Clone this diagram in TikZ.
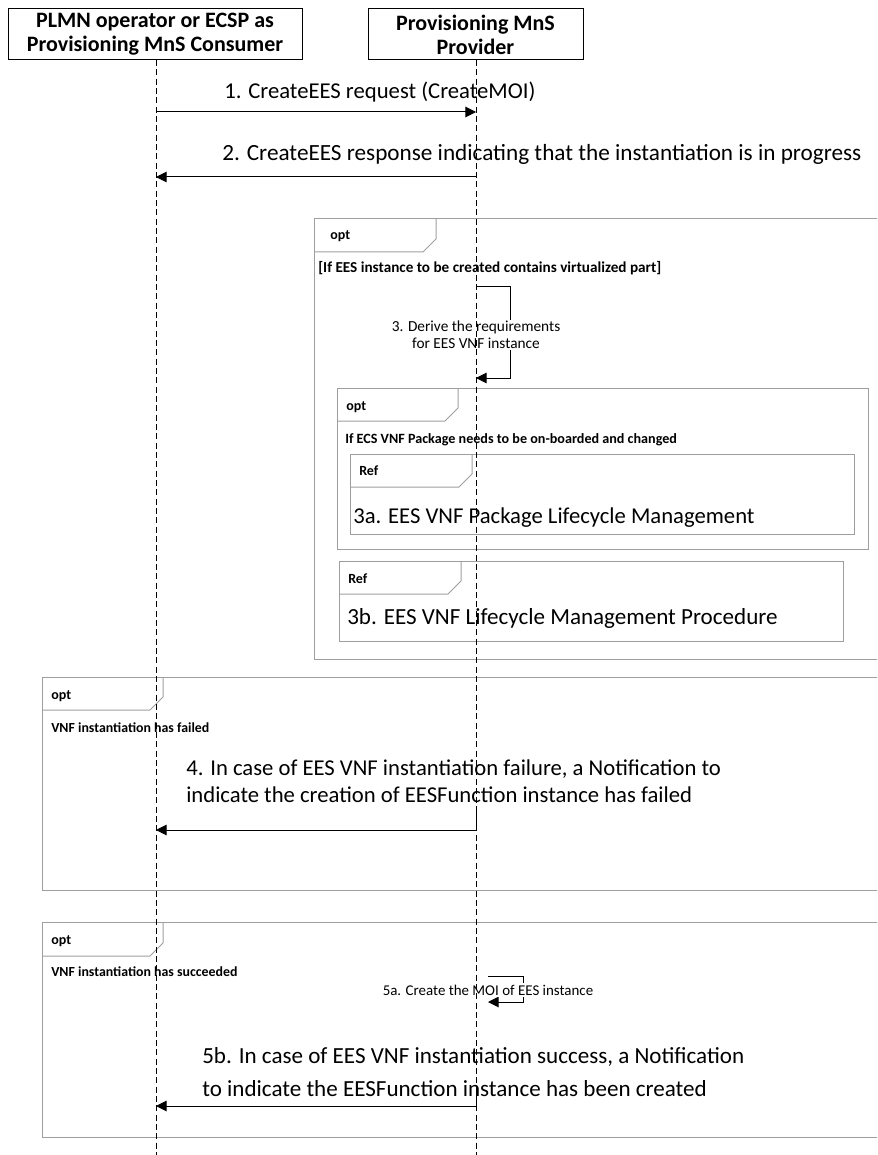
\documentclass[tikz,border=0pt]{standalone}
\usepackage{fontspec}
\setmainfont{Carlito}
\usetikzlibrary{arrows.meta}
\begin{document}
\begin{tikzpicture}[x=0.75pt,y=-0.75pt,
  actor/.style={draw, line width=0.75pt, align=center, inner sep=0pt,
    font=\bfseries\fontsize{16.5}{18}\selectfont},
  life/.style={line width=0.75pt, dash pattern=on 4.5pt off 2.5pt},
  msg/.style={line width=0.75pt, -{Triangle[length=8pt,width=8pt]}},
  selfmsg/.style={line width=0.75pt, -{Triangle[length=8pt,width=8pt]}},
  frame/.style={draw=black!38, line width=0.75pt},
  msgtxt/.style={inner sep=0pt, anchor=base west, font=\fontsize{17}{20}\selectfont},
  bigtxt/.style={inner sep=0pt, anchor=base west, font=\fontsize{17.1}{20}\selectfont},
  tabtxt/.style={inner sep=0pt, anchor=base west, font=\bfseries\fontsize{10.5}{12}\selectfont},
  guardtxt/.style={inner sep=0pt, anchor=base west, font=\bfseries\fontsize{10.6}{12}\selectfont},
  smalltxt/.style={inner sep=1pt, fill=white, align=center, font=\fontsize{11.5}{13}\selectfont}
]
\useasboundingbox (0,0) rectangle (877,1155);
\clip (0,0) rectangle (877,1155);

% ---------- frames ----------
% outer opt
\draw[frame] (314,219) rectangle (880,659);
\draw[frame] (314,252) -- (423,252) -- (436,239) -- (436,219);
\node[tabtxt] (opt1) at (330,240) {opt};
\node[guardtxt, font=\bfseries\fontsize{11.4}{12}\selectfont] (g1) at (318,273) {[If EES instance to be created contains virtualized part]};
% inner opt
\draw[frame] (337,388) rectangle (868,549);
\draw[frame] (337,421) -- (445,421) -- (458,408) -- (458,388);
\node[tabtxt] (opt2) at (346,410) {opt};
\node[guardtxt] (g2) at (345,443) {If ECS VNF Package needs to be on-boarded and changed};
% ref 3a
\draw[frame] (350,454) rectangle (854,534);
\draw[frame] (350,487) -- (459,487) -- (472,474) -- (472,454);
\node[tabtxt] (ref1) at (359,475) {Ref};
\node[bigtxt, font=\fontsize{17}{20}\selectfont] (r3a) at (353,523) {3a. EES VNF Package Lifecycle Management};
% ref 3b
\draw[frame] (339,561) rectangle (843,641);
\draw[frame] (339,594) -- (448,594) -- (461,581) -- (461,561);
\node[tabtxt] (ref2) at (348,583) {Ref};
\node[bigtxt, font=\fontsize{17.3}{20}\selectfont] (r3b) at (347,624) {3b. EES VNF Lifecycle Management Procedure};
% opt failed
\draw[frame] (42,677) rectangle (880,890);
\draw[frame] (42,710) -- (150,710) -- (163,697) -- (163,677);
\node[tabtxt] (opt3) at (51,699) {opt};
\node[guardtxt, font=\bfseries\fontsize{10.4}{12}\selectfont] (g3) at (51,732) {VNF instantiation has failed};
% opt succeeded
\draw[frame] (42,922) rectangle (880,1137);
\draw[frame] (42,956) -- (150,956) -- (163,943) -- (163,922);
\node[tabtxt] (opt4) at (51,944) {opt};
\node[guardtxt, font=\bfseries\fontsize{10.4}{12}\selectfont] (g4) at (51,976) {VNF instantiation has succeeded};

% ---------- actors ----------
\node[actor, minimum width=220.5pt, minimum height=38.25pt] (cons) at (155,34.5)
  {PLMN operator or ECSP as\\Provisioning MnS Consumer};
\node[actor, minimum width=161.25pt, minimum height=38.25pt] (prov) at (475.5,34.5)
  {Provisioning MnS\\Provider};

% lifeline coordinates
\coordinate (cT) at (156,60);   \coordinate (cB) at (156,1155);
\coordinate (pT) at (476,60);   \coordinate (pB) at (476,1155);

% message points
\coordinate (c1) at (156,112); \coordinate (p1) at (476,112);
\coordinate (c2) at (156,177); \coordinate (p2) at (476,177);
\coordinate (s3a) at (476,287); \coordinate (s3b) at (510,287);
\coordinate (s3c) at (510,378); \coordinate (s3d) at (476,378);
\coordinate (c4) at (156,830); \coordinate (p4) at (476,830);
\coordinate (p4s) at (476,806);
\coordinate (s5a) at (488,976); \coordinate (s5b) at (523,976);
\coordinate (s5c) at (523,1002); \coordinate (s5d) at (488,1002);
\coordinate (c5) at (156,1106); \coordinate (p5) at (476,1106);
\coordinate (p5s) at (476,1092);

% ---------- messages ----------
\draw[msg] (c1) -- (p1);
\node[msgtxt] (m1) at (224,98.5) {1. CreateEES request (CreateMOI)};
\draw[msg] (p2) -- (c2);
\node[msgtxt, font=\fontsize{17.4}{20}\selectfont] (m2) at (222,161) {2. CreateEES response indicating that the instantiation is in progress};

\draw[selfmsg] (s3a) -- (s3b) -- (s3c) -- (s3d);
\node[smalltxt] (m3) at (476,335) {3. Derive the requirements\\for EES VNF instance};

\draw[line width=0.75pt] (p4s) -- (p4);
\draw[msg] (p4) -- (c4);
\node[msgtxt] (m4a) at (186,775) {4. In case of EES VNF instantiation failure, a Notification to};
\node[msgtxt] (m4b) at (186,802) {indicate the creation of EESFunction instance has failed};

\draw[selfmsg] (s5a) -- (s5b) -- (s5c) -- (s5d);
\node[smalltxt, font=\fontsize{11.2}{12}\selectfont] (m5a) at (488,990) {5a. Create the MOI of EES instance};

\draw[line width=0.75pt] (p5s) -- (p5);
\draw[msg] (p5) -- (c5);
\node[msgtxt, font=\fontsize{17.3}{20}\selectfont] (m5b1) at (202,1063) {5b. In case of EES VNF instantiation success, a Notification};
\node[msgtxt, font=\fontsize{17.3}{20}\selectfont] (m5b2) at (202,1096) {to indicate the EESFunction instance has been created};

% ---------- lifelines (on top) ----------
\draw[life] (cT) -- (cB);
\draw[life] (pT) -- (pB);
\end{tikzpicture}
\end{document}
